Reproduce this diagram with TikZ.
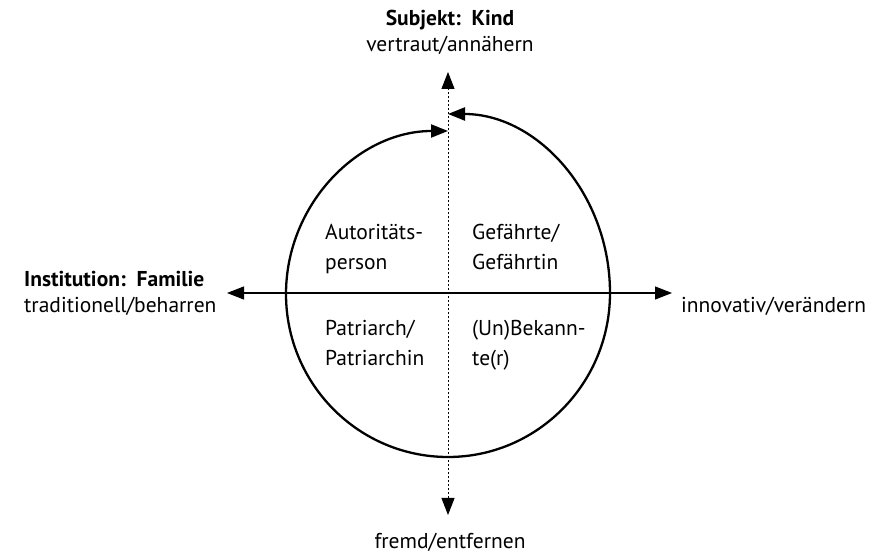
\documentclass[tikz,border=0pt]{standalone}
\usepackage{fontspec}
\setmainfont{PT Sans}
\usepackage{tikz}
\usetikzlibrary{arrows.meta}

\begin{document}
\begin{tikzpicture}[ x = 1pt, y = 1pt
                   , font = \fontsize{21.5}{26.5}\selectfont
                   , >={Triangle[width=13pt, length=17pt]}
                   , every node/.style = { inner sep = 0pt
                                         , align = left }
                   ]

  \useasboundingbox (0,0) rectangle (889,554);

  %%
  %% Coordinates
  %%
  \coordinate (c) at (448,261);
  \coordinate (top) at (448,482);
  \coordinate (bot) at (448,39);
  \coordinate (lft) at (227,261);
  \coordinate (rgt) at (672,261);
  \coordinate (low) at (448,97);

  %%
  %% Nodes
  %%
  \tikzset{ axis/.style={line width=1.1pt}
          , dotaxis/.style={line width=1pt, dash pattern=on 2.5pt off 1.5pt}
          , loop/.style={line width=2.3pt}
          , quad/.style={anchor=base west, font=\fontsize{21.5}{30}\selectfont}
          , pole/.style={anchor=base west}
          }

  % multi-line nodes sit on their last line
  \node (subj) [anchor=base, align=center] at (450,502) {\textbf{Subjekt:\ \ Kind}\\vertraut/annähern};
  \node (inst) [pole] at (24,241) {\textbf{Institution:\ \ Familie}\\traditionell/beharren};
  \node (innov) [pole] at (681,241) {innovativ/verändern};
  \node (fremd) [anchor=base] at (450,5) {fremd/entfernen};

  \node (auto) [quad] at (325,284) {Autoritäts-\\person};
  \node (gef) [quad] at (472,284) {Gefährte/\\Gefährtin};
  \node (patr) [quad] at (325,188) {Patriarch/\\Patriarchin};
  \node (bek) [quad] at (472,188) {(Un)Bekann-\\te(r)};

  %%
  %% Axes and cycle (arrows)
  %%
  % Horizontal line.
  \draw[axis, <->] (lft) -- (rgt);
  % Vertical line.
  \draw[dotaxis, <->] (bot) -- (top);
  % Cycle.
  \draw[loop, ->] (low) arc[start angle=270, end angle=90, x radius=162, y radius=163];
  \draw[loop, ->] (low) arc[start angle=270, end angle=360, x radius=162, y radius=164]
                        arc[start angle=0, end angle=90, x radius=162, y radius=179];
\end{tikzpicture}
\end{document}
